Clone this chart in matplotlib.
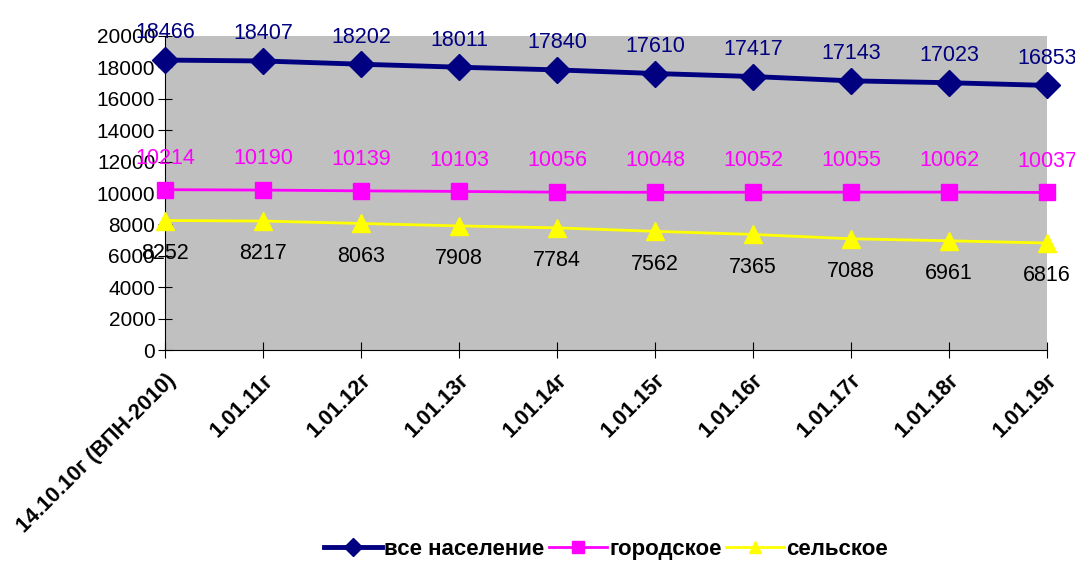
import matplotlib.pyplot as plt
import numpy as np

plt.rcParams['font.family'] = ['Liberation Sans', 'DejaVu Sans']

dates = ['14.10.10г (ВПН-2010)', '1.01.11г', '1.01.12г', '1.01.13г', '1.01.14г',
         '1.01.15г', '1.01.16г', '1.01.17г', '1.01.18г', '1.01.19г']
total = [18466, 18407, 18202, 18011, 17840, 17610, 17417, 17143, 17023, 16853]
urban = [10214, 10190, 10139, 10103, 10056, 10048, 10052, 10055, 10062, 10037]
rural = [8252, 8217, 8063, 7908, 7784, 7562, 7365, 7088, 6961, 6816]

x = np.arange(len(dates))

fig = plt.figure(figsize=(10.75, 5.62), dpi=100)
ax = fig.add_axes([0.1535, 0.377, 0.8205, 0.559])
ax.set_facecolor('#c0c0c0')

ax.plot(x, total, color='#000080', lw=3.5, marker='D', ms=13,
        label='все население', clip_on=False, zorder=3)
ax.plot(x, urban, color='#ff00ff', lw=2, marker='s', ms=12,
        label='городское', clip_on=False, zorder=3)
ax.plot(x, rural, color='#ffff00', lw=2, marker='^', ms=13,
        label='сельское', clip_on=False, zorder=3)

# подписи значений
for xi, v in zip(x, total):
    ax.annotate(str(v), (xi, v), xytext=(0, 12), textcoords='offset points',
                ha='center', va='bottom', fontsize=15.5, color='#000080')
for xi, v in zip(x, urban):
    ax.annotate(str(v), (xi, v), xytext=(0, 15), textcoords='offset points',
                ha='center', va='bottom', fontsize=15.5, color='#ff00ff')
for xi, v in zip(x, rural):
    ax.annotate(str(v), (xi, v), xytext=(0, -16), textcoords='offset points',
                ha='center', va='top', fontsize=15.5, color='black')

ax.set_xlim(0, len(dates) - 1)
ax.set_ylim(0, 20000)
ax.set_yticks(np.arange(0, 20001, 2000))
ax.set_xticks(x)
ax.set_xticklabels(dates, rotation=45, ha='right', rotation_mode='anchor',
                   fontsize=15.5, fontweight='bold')
ax.tick_params(axis='y', labelsize=15, direction='inout', length=10, pad=2)
ax.tick_params(axis='x', direction='inout', length=12, pad=8)

for s in ['top', 'right']:
    ax.spines[s].set_visible(False)
ax.spines['left'].set_color('black')
ax.spines['bottom'].set_color('black')

ax.legend(loc='center', bbox_to_anchor=(0.5, -0.635), ncol=3, frameon=False,
          prop={'weight': 'bold', 'size': 16}, handlelength=2.6,
          handletextpad=0.1, columnspacing=0.2, markerscale=0.7)

fig.savefig('out.png', dpi=100)
